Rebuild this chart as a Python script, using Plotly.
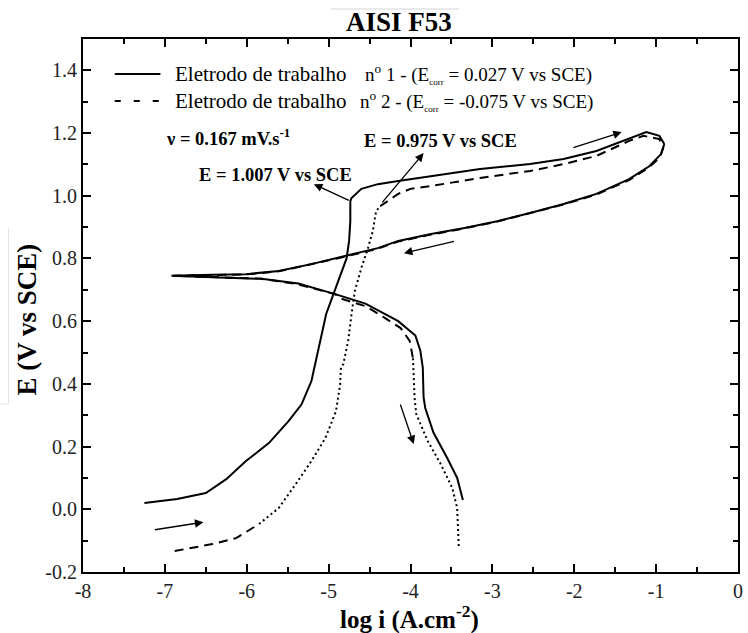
import plotly.graph_objects as go

# ---- Electrode 1 (solid) : forward scan, then reverse scan back through Ecorr ----
e1_fwd_logi = [-7.25, -6.85, -6.50, -6.25, -6.01, -5.73, -5.49, -5.33, -5.21, -5.12,
               -5.03, -4.94, -4.85, -4.78, -4.75, -4.735, -4.735, -4.72, -4.60, -4.40,
               -4.15, -3.75, -3.15, -2.54, -2.13, -1.73, -1.40, -1.12, -0.96, -0.90]
e1_fwd_E = [0.020, 0.033, 0.052, 0.096, 0.154, 0.211, 0.281, 0.335, 0.409, 0.514,
            0.623, 0.687, 0.750, 0.801, 0.856, 0.919, 0.983, 0.993, 1.022, 1.037,
            1.047, 1.063, 1.085, 1.101, 1.117, 1.143, 1.175, 1.203, 1.191, 1.165]

e1_rev_logi = [-0.90, -0.94, -1.08, -1.33, -1.73, -2.13, -2.54, -2.94, -3.34, -3.75,
               -4.15, -4.40, -4.80, -5.21, -5.61, -6.01, -6.42, -6.92,
               -6.42, -5.82, -5.37, -4.94, -4.55, -4.15, -3.94, -3.88, -3.85, -3.84,
               -3.82, -3.72, -3.55, -3.43, -3.36]
e1_rev_E = [1.165, 1.133, 1.095, 1.053, 1.006, 0.974, 0.945, 0.919, 0.897, 0.878,
            0.856, 0.833, 0.808, 0.782, 0.760, 0.750, 0.748, 0.745,
            0.740, 0.735, 0.720, 0.688, 0.656, 0.600, 0.554, 0.506, 0.452, 0.357,
            0.323, 0.245, 0.163, 0.100, 0.030]

# ---- Electrode 2 : drawn in pieces (dashed / dotted as printed) ----
e2_a_logi = [-6.88, -6.42, -6.13, -5.85]
e2_a_E = [-0.133, -0.111, -0.092, -0.047]

e2_b_logi = [-5.85, -5.61, -5.40, -5.21, -5.04, -4.91, -4.86, -4.85, -4.82, -4.80,
             -4.76, -4.72, -4.68, -4.60, -4.52, -4.46, -4.42, -4.37]
e2_b_E = [-0.047, 0.004, 0.081, 0.154, 0.227, 0.313, 0.397, 0.452, 0.463, 0.490,
          0.540, 0.623, 0.696, 0.770, 0.833, 0.888, 0.951, 0.967]

e2_c_logi = [-4.37, -4.15, -4.00, -3.75, -3.15, -2.54, -2.13, -1.73, -1.33, -1.155,
             -0.96, -0.913, -0.96, -1.10, -1.33, -1.73, -2.13, -2.54, -2.94, -3.34,
             -3.75, -4.15, -4.40, -4.80, -5.21, -5.61, -6.01, -6.42, -6.90,
             -6.42, -5.82, -5.40, -4.92, -4.85, -4.55, -4.31, -4.12, -4.01, -3.97]
e2_c_E = [0.967, 1.006, 1.022, 1.031, 1.057, 1.079, 1.101, 1.127, 1.175, 1.191,
          1.181, 1.152, 1.120, 1.088, 1.050, 1.004, 0.972, 0.944, 0.918, 0.896,
          0.876, 0.854, 0.831, 0.806, 0.781, 0.759, 0.749, 0.747, 0.745,
          0.741, 0.735, 0.719, 0.686, 0.672, 0.648, 0.610, 0.578, 0.537, 0.482]

e2_d_logi = [-3.97, -3.96, -3.95, -3.93, -3.79, -3.63, -3.49, -3.43, -3.41]
e2_d_E = [0.482, 0.400, 0.355, 0.304, 0.218, 0.144, 0.068, 0.004, -0.124]

# ---- axis ticks ----
x_tick_vals = [-8, -7, -6, -5, -4, -3, -2, -1, 0]
x_tick_text = ["-8", "-7", "-6", "-5", "-4", "-3", "-2", "-1", "0"]
y_tick_vals = [-0.2, 0.0, 0.2, 0.4, 0.6, 0.8, 1.0, 1.2, 1.4]
y_tick_text = ["-0.2", "0.0", "0.2", "0.4", "0.6", "0.8", "1.0", "1.2", "1.4"]

# ---- text ----
title_text = "AISI F53"
x_title = "log i (A.cm<sup>-2</sup>)"
y_title = "E (V vs SCE)"
key_label = "Eletrodo de trabalho"
SUB = '<sub><span style="font-size:9px">corr</span></sub>'
key_detail_1 = "n<sup>o</sup> 1 - (E" + SUB + " = 0.027 V vs SCE)"
key_detail_2 = "n<sup>o</sup> 2 - (E" + SUB + " = -0.075 V vs SCE)"
rate_text = "<b>\u03bd = 0.167 mV.s<sup>-1</sup></b>"
pit_1_text = "<b>E = 1.007 V vs SCE</b>"
pit_2_text = "<b>E = 0.975 V vs SCE</b>"

# scan-direction arrows: (head x, head y, tail x, tail y)
scan_arrows = [
    (-1.42, 1.203, -2.03, 1.152),
    (-4.08, 0.817, -3.45, 0.856),
    (-3.96, 0.208, -4.13, 0.339),
    (-6.53, -0.041, -7.14, -0.066),
]
# pitting-potential label arrows
pit_arrows = [
    (-5.18, 1.037, -4.735, 0.983),
    (-3.84, 1.136, -4.36, 0.974),
]

FONT = "Liberation Serif"
DOT = "2px,3px"
DASH = "9px,6px"

W, H = 748, 633
M_L, M_R, M_T, M_B = 83, 5, 39, 61
PW = W - M_L - M_R
PH = H - M_T - M_B


def px(xp):
    """figure pixel column -> paper x"""
    return (xp - M_L) / PW


def py(yp):
    """figure pixel row -> paper y"""
    return (H - M_B - yp) / PH


fig = go.Figure()
fig.add_trace(go.Scatter(x=e1_fwd_logi, y=e1_fwd_E, mode="lines",
                         line=dict(color="black", width=2), showlegend=False))
fig.add_trace(go.Scatter(x=e1_rev_logi, y=e1_rev_E, mode="lines",
                         line=dict(color="black", width=2), showlegend=False))
fig.add_trace(go.Scatter(x=e2_a_logi, y=e2_a_E, mode="lines",
                         line=dict(color="black", width=2, dash=DASH), showlegend=False))
fig.add_trace(go.Scatter(x=e2_b_logi, y=e2_b_E, mode="lines",
                         line=dict(color="black", width=2, dash=DOT), showlegend=False))
fig.add_trace(go.Scatter(x=e2_c_logi, y=e2_c_E, mode="lines",
                         line=dict(color="black", width=2, dash=DASH), showlegend=False))
fig.add_trace(go.Scatter(x=e2_d_logi, y=e2_d_E, mode="lines",
                         line=dict(color="black", width=2, dash=DOT), showlegend=False))

annotations = []
for hx, hy, tx, ty in scan_arrows + pit_arrows:
    annotations.append(dict(x=hx, y=hy, ax=tx, ay=ty, xref="x", yref="y",
                            axref="x", ayref="y", text="", showarrow=True,
                            arrowhead=2, arrowsize=1.3, arrowwidth=1.3,
                            arrowcolor="black"))

# key for the two electrodes, plus the thin rule over the title
shapes = [
    dict(type="line", xref="paper", yref="paper", x0=px(115), x1=px(161),
         y0=py(74), y1=py(74), line=dict(color="black", width=2)),
    dict(type="line", xref="paper", yref="paper", x0=px(115), x1=px(161),
         y0=py(101), y1=py(101), line=dict(color="black", width=2, dash="6px,13px")),
    dict(type="line", xref="paper", yref="paper", x0=px(333), x1=px(462),
         y0=py(9), y1=py(9), line=dict(color="#d4d4d4", width=1)),
    dict(type="line", xref="paper", yref="paper", x0=px(8), x1=px(8),
         y0=py(228), y1=py(404), line=dict(color="#e2e2e2", width=1)),
    dict(type="line", xref="paper", yref="paper", x0=px(0), x1=px(8),
         y0=py(404), y1=py(404), line=dict(color="#e2e2e2", width=1)),
]
key_font = dict(family=FONT, size=21, color="black")
detail_font = dict(family=FONT, size=19, color="black")
for yy, x_detail, detail in [(74, 365, key_detail_1), (101, 360, key_detail_2)]:
    annotations.append(dict(x=px(174), y=py(yy), xref="paper", yref="paper",
                            text=key_label, showarrow=False, xanchor="left",
                            yanchor="middle", font=key_font))
    annotations.append(dict(x=px(x_detail), y=py(yy), xref="paper", yref="paper",
                            text=detail, showarrow=False, xanchor="left",
                            yanchor="middle", font=detail_font))

note_font = dict(family=FONT, size=18.5, color="black")
annotations += [
    dict(x=px(165), y=py(137), xref="paper", yref="paper", text=rate_text,
         showarrow=False, xanchor="left", yanchor="middle", font=note_font),
    dict(x=px(198), y=py(175), xref="paper", yref="paper", text=pit_1_text,
         showarrow=False, xanchor="left", yanchor="middle", font=note_font),
    dict(x=px(364), y=py(141), xref="paper", yref="paper", text=pit_2_text,
         showarrow=False, xanchor="left", yanchor="middle", font=note_font),
    dict(x=px(401), y=py(22), xref="paper", yref="paper", text="<b>" + title_text + "</b>",
         showarrow=False, xanchor="center", yanchor="middle",
         font=dict(family=FONT, size=27, color="black")),
    dict(x=px(412), y=py(617), xref="paper", yref="paper", text="<b>" + x_title + "</b>",
         showarrow=False, xanchor="center", yanchor="middle",
         font=dict(family=FONT, size=25, color="black")),
    dict(x=px(27), y=py(319), xref="paper", yref="paper", text="<b>" + y_title + "</b>",
         showarrow=False, xanchor="center", yanchor="middle", textangle=-90,
         font=dict(family=FONT, size=27, color="black")),
]

axis_common = dict(
    showline=True, linecolor="black", linewidth=2, mirror="ticks",
    ticks="inside", ticklen=8, tickwidth=1.5, tickcolor="black",
    showgrid=False, zeroline=False,
    tickfont=dict(family=FONT, size=20, color="#222222"),
)
fig.update_xaxes(range=[-8, 0], tickmode="array", tickvals=x_tick_vals,
                 ticktext=x_tick_text,
                 minor=dict(ticks="inside", ticklen=5, tickwidth=1.5, dtick=0.5,
                            tick0=-8, tickcolor="black", showgrid=False),
                 **axis_common)
fig.update_yaxes(range=[-0.2, 1.5], tickmode="array", tickvals=y_tick_vals,
                 ticktext=y_tick_text,
                 minor=dict(ticks="inside", ticklen=5, tickwidth=1.5, dtick=0.1,
                            tick0=-0.2, tickcolor="black", showgrid=False),
                 **axis_common)

fig.update_layout(
    width=W, height=H,
    margin=dict(l=M_L, r=M_R, t=M_T, b=M_B),
    plot_bgcolor="white", paper_bgcolor="white",
    showlegend=False,
    annotations=annotations, shapes=shapes,
    font=dict(family=FONT, color="black"),
)

fig.write_html("out.html")
